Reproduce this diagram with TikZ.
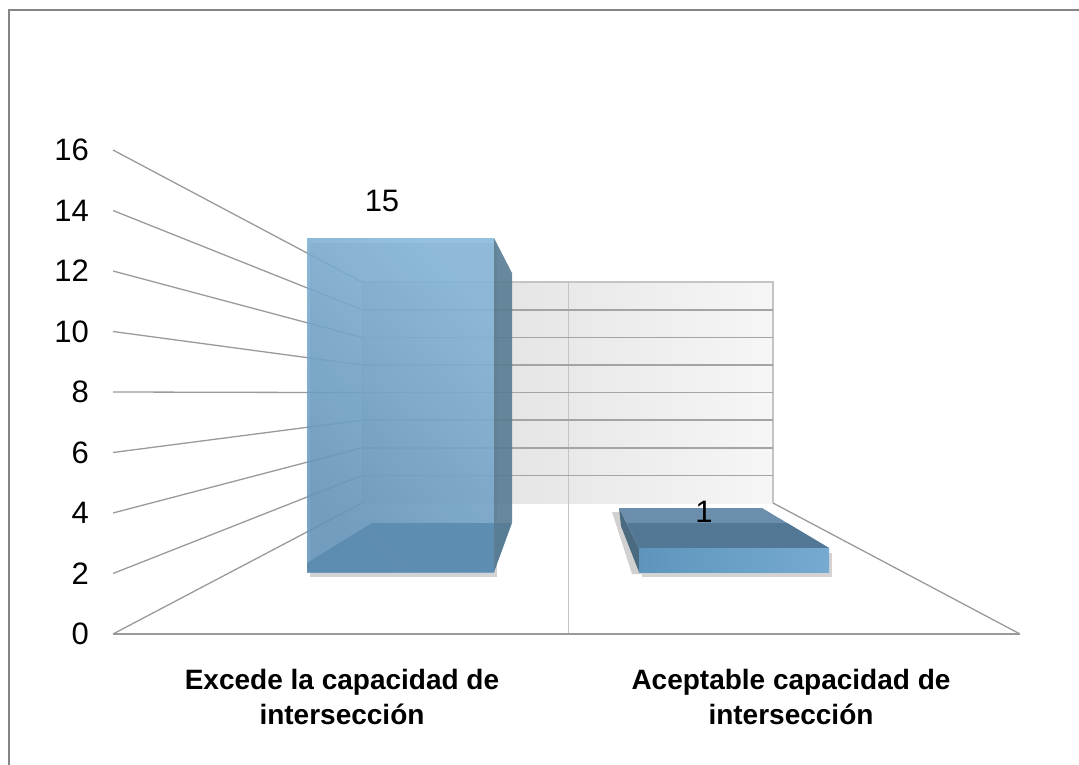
\documentclass[tikz,border=0pt]{standalone}
\usepackage{fontspec}
\setmainfont{Liberation Sans}
\definecolor{framegray}{HTML}{858585}
\definecolor{linegray}{HTML}{9A9A9A}
\definecolor{wallhi}{HTML}{F6F6F6}
\definecolor{walllo}{HTML}{DCDCDC}
\definecolor{wallline}{HTML}{A4A4A4}
\definecolor{wallrim}{HTML}{C4C4C4}
\definecolor{barhi}{HTML}{84B6DA}
\definecolor{barlo}{HTML}{6395BC}
\definecolor{barside}{HTML}{587B92}
\definecolor{barfloor}{HTML}{5B8BAE}
\definecolor{slabtop}{HTML}{6A8EAB}
\definecolor{slabdark}{HTML}{537896}
\definecolor{slabside}{HTML}{4A6A80}
\definecolor{slablo}{HTML}{5F95BC}
\definecolor{slabhi}{HTML}{76AAD0}
\usetikzlibrary{shadows}

\begin{document}
\begin{tikzpicture}[x=1pt,y=-1pt,
  axislabel/.style={font=\fontsize{31}{33}\selectfont,anchor=east,inner sep=0pt},
  vallabel/.style={font=\fontsize{31}{33}\selectfont},
  catlabel/.style={font=\fontsize{28}{35}\selectfont\bfseries,align=center},
  grid/.style={linegray,line width=1.3pt},
  wallgrid/.style={wallline,line width=1.5pt},
  barshadow/.style={drop shadow={shadow xshift=3pt,shadow yshift=-5pt,opacity=0.35}}]

  \useasboundingbox (0,0) rectangle (1079,765);
  % frame
  \draw[framegray,line width=2pt] (9,765) -- (9,10) -- (1079,10);

  % back wall and floor
  \shade[left color=walllo,right color=wallhi] (362,282) rectangle (773,503);
  \draw[wallrim,line width=2pt] (362,282) -- (773,282) -- (773,503);
  \draw[wallrim,line width=1pt] (362,282) -- (362,503);
  \draw[wallrim,line width=1pt] (568,282) -- (568,634);
  \draw[grid] (113,634) -- (1020,634);
  \draw[grid] (773,503) -- (1020,634);

  \foreach \k in {0,...,8} {
    \pgfmathsetmacro\yf{634-60.5*\k}
    \pgfmathsetmacro\yb{503-27.6*\k}
    \pgfmathtruncatemacro\lab{2*\k}
    \draw[grid] (113,\yf) -- (362,\yb);
    \ifnum\k>0 \ifnum\k<8 \draw[wallgrid] (362,\yb) -- (773,\yb); \fi\fi
    \node[axislabel] (tick\lab) at (89,\yf) {\lab};
  }

  % bar: Excede la capacidad
  \shade[barshadow,fill opacity=0.86,top color=barhi,bottom color=barlo,shading angle=-45]
    (307,238) rectangle (494,572);
  \fill[barfloor,fill opacity=0.9] (307,563) -- (372,523) -- (512,523)
    -- (494,572) -- (307,572) -- cycle;
  \fill[barside,fill opacity=0.9] (494,238) -- (512,273) -- (512,522)
    -- (494,572) -- cycle;
  \node[vallabel] (val15) at (382,201) {15};

  % bar: Aceptable capacidad
  \fill[black,opacity=0.18] (612,512) -- (622,512) -- (642,574) -- (632,574) -- cycle;
  \fill[slabside] (619,508) -- (639,548) -- (639,572) -- (621,526) -- cycle;
  \fill[slabtop] (619,508) -- (762,508) -- (829,548) -- (639,548) -- cycle;
  \fill[slabdark] (627,523) -- (787,523) -- (829,548) -- (639,548) -- cycle;
  \shade[barshadow,left color=slablo,right color=slabhi] (639,548) rectangle (829,572);
  \node[vallabel] (val1) at (704,512) {1};

  % categories
  \node[catlabel] (catA) at (342,697) {Excede la capacidad de\\intersección};
  \node[catlabel] (catB) at (791,697) {Aceptable capacidad de\\intersección};
\end{tikzpicture}
\end{document}
